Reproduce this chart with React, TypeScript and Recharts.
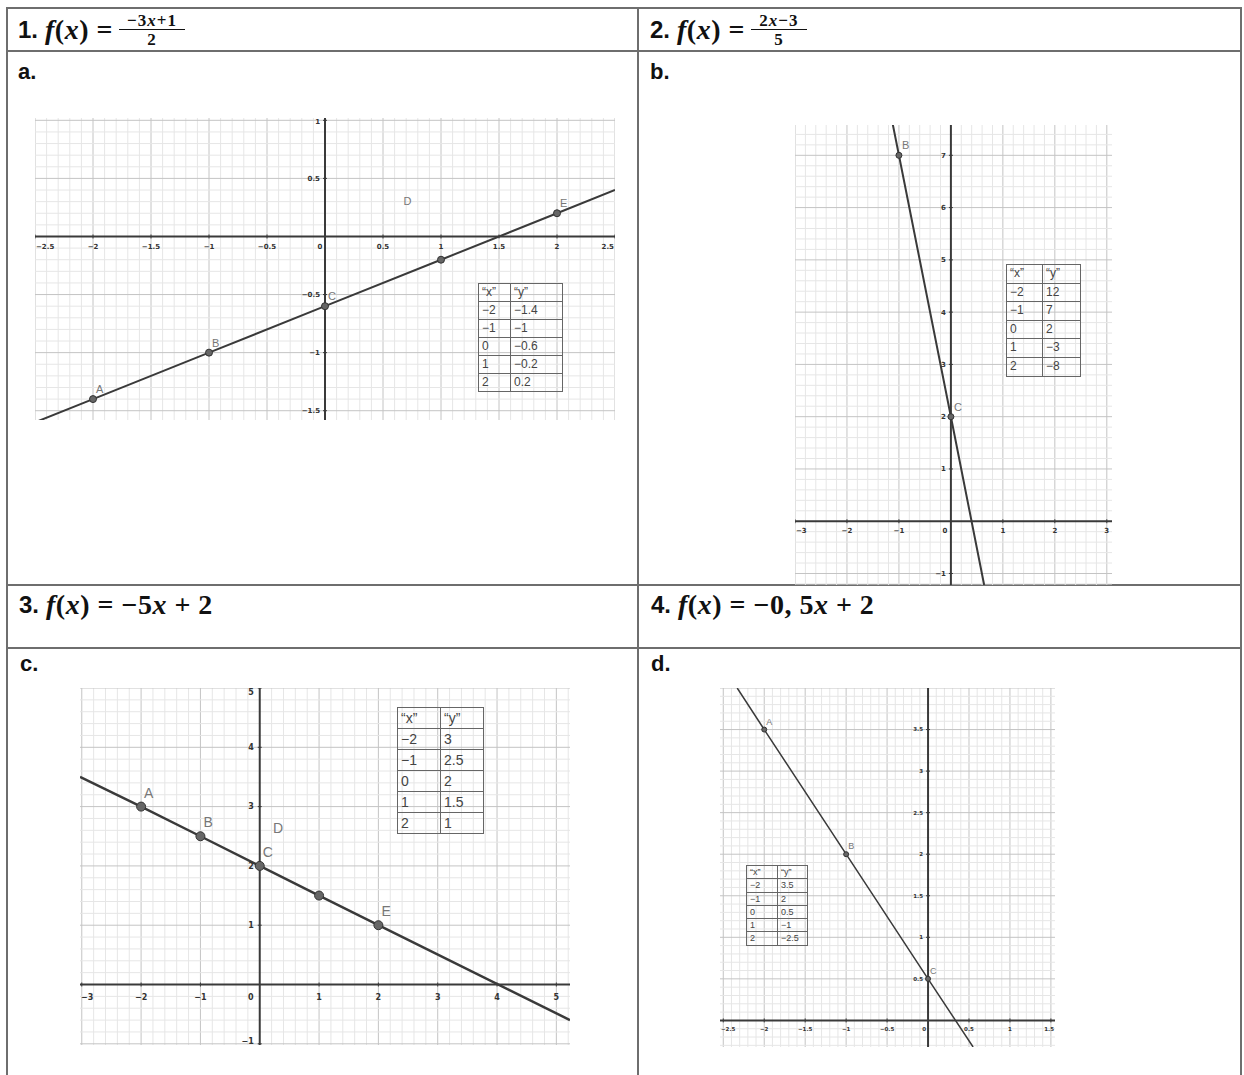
import React from 'react';
import { ComposedChart, Line, Scatter, XAxis, YAxis, ReferenceLine } from 'recharts';

// a. worksheet graph under f(x) = (-3x+1)/2
const aPointX = [-2, -1, 0, 1, 2];
const aPointY = [-1.4, -1, -0.6, -0.2, 0.2];
const aPointNames = ['A', 'B', 'C', '', 'E'];
const aLineX = [-2.5, 2.5];
const aLineY = [-1.6, 0.4];
const aXTicks = [-2.5, -2, -1.5, -1, -0.5, 0, 0.5, 1, 1.5, 2, 2.5];
const aYTicks = [-1.5, -1, -0.5, 0.5, 1];
const aTableX = ['−2', '−1', '0', '1', '2'];
const aTableY = ['−1.4', '−1', '−0.6', '−0.2', '0.2'];
const aNotes = [{ x: 0.71, y: 0.3, text: 'D' }];

// b. graph under f(x) = (2x-3)/5
const bPointX = [-1, 0];
const bPointY = [7, 2];
const bPointNames = ['B', 'C'];
const bLineX = [-1.12, 0.64];
const bLineY = [7.6, -1.22];
const bXTicks = [-3, -2, -1, 0, 1, 2, 3];
const bYTicks = [-1, 1, 2, 3, 4, 5, 6, 7];
const bTableX = ['−2', '−1', '0', '1', '2'];
const bTableY = ['12', '7', '2', '−3', '−8'];

// c. graph under f(x) = -5x + 2
const cPointX = [-2, -1, 0, 1, 2];
const cPointY = [3, 2.5, 2, 1.5, 1];
const cPointNames = ['A', 'B', 'C', '', 'E'];
const cLineX = [-3.03, 5.23];
const cLineY = [3.5, -0.6];
const cXTicks = [-3, -2, -1, 0, 1, 2, 3, 4, 5];
const cYTicks = [-1, 1, 2, 3, 4, 5];
const cTableX = ['−2', '−1', '0', '1', '2'];
const cTableY = ['3', '2.5', '2', '1.5', '1'];
const cNotes = [{ x: 0.31, y: 2.63, text: 'D' }];

// d. graph under f(x) = -0,5x + 2
const dPointX = [-2, -1, 0];
const dPointY = [3.5, 2, 0.5];
const dPointNames = ['A', 'B', 'C'];
const dLineX = [-2.33, 0.55];
const dLineY = [4.0, -0.32];
const dXTicks = [-2.5, -2, -1.5, -1, -0.5, 0, 0.5, 1, 1.5];
const dYTicks = [0.5, 1, 1.5, 2, 2.5, 3, 3.5];
const dTableX = ['−2', '−1', '0', '1', '2'];
const dTableY = ['3.5', '2', '0.5', '−1', '−2.5'];

const RULE = '#6e6e6e';
const AXIS = '#3a3a3a';
const MINOR = '#e6e6e6';
const MAJOR = '#c4c4c4';
const SANS = '"Liberation Sans", Arial, sans-serif';
const MATH = '"Liberation Serif", "DejaVu Serif", serif';

const fmt = (v: number) => String(v).replace('-', '−');

function steps(lo: number, hi: number, step: number) {
  const out: number[] = [];
  for (let i = Math.ceil(lo / step - 1e-9); i <= Math.floor(hi / step + 1e-9); i++) {
    out.push(+(i * step).toFixed(6));
  }
  return out;
}

type PlotProps = {
  left: number;
  top: number;
  width: number;
  height: number;
  xDomain: [number, number];
  yDomain: [number, number];
  minor: number;
  major: number;
  xTicks: number[];
  yTicks: number[];
  px: number[];
  py: number[];
  names: string[];
  lx: number[];
  ly: number[];
  tickFont: number;
  nameFont: number;
  pointR: number;
  xLabelDy: number;
  yLabelDx: number;
  zeroDx: number;
  nameDx: number;
  nameDy: number;
  lineWidth: number;
  notes?: { x: number; y: number; text: string }[];
};

function Plot(p: PlotProps) {
  const isMajor = (v: number) => Math.abs(v / p.major - Math.round(v / p.major)) < 1e-6;
  const gx = steps(p.xDomain[0], p.xDomain[1], p.minor).filter((v) => v !== 0);
  const gy = steps(p.yDomain[0], p.yDomain[1], p.minor).filter((v) => v !== 0);

  const lineData = [
    ...p.lx.map((x, i) => ({ x, y: p.ly[i] })),
    ...p.px.map((x, i) => ({ x, y: p.py[i] })),
  ].sort((a, b) => a.x - b.x);
  const pointData = p.px.map((x, i) => ({ x, y: p.py[i], name: p.names[i] }));
  const xTickData = p.xTicks.map((x) => ({ x, y: 0, label: fmt(x) }));
  const yTickData = p.yTicks.map((y) => ({ x: 0, y, label: fmt(y) }));
  const noteData = (p.notes ?? []).map((n) => ({ x: n.x, y: n.y, label: n.text }));

  const xTick = (props: any) => {
    const { cx, cy, payload } = props;
    const half = payload.label.length * p.tickFont * 0.32;
    let anchor: 'middle' | 'start' | 'end' = 'middle';
    let tx = cx + (payload.x === 0 ? p.zeroDx : 0);
    if (cx - half < 1) {
      anchor = 'start';
      tx = 1;
    } else if (cx + half > p.width - 1) {
      anchor = 'end';
      tx = p.width - 1;
    }
    return (
      <g>
        {payload.x !== 0 && <line x1={cx} x2={cx} y1={cy - 2} y2={cy + 2} stroke={AXIS} />}
        <text x={tx} y={cy + p.xLabelDy} textAnchor={anchor} fontSize={p.tickFont}
          fontWeight={700} fontFamily="DejaVu Sans, sans-serif" fill="#333">
          {payload.label}
        </text>
      </g>
    );
  };
  const yTick = (props: any) => {
    const { cx, cy, payload } = props;
    const ty = Math.max(cy + p.tickFont * 0.35, p.tickFont * 0.9);
    return (
      <g>
        <line x1={cx - 2} x2={cx + 2} y1={cy} y2={cy} stroke={AXIS} />
        <text x={cx + p.yLabelDx} y={Math.min(ty, p.height - 1)} textAnchor="end" fontSize={p.tickFont}
          fontWeight={700} fontFamily="DejaVu Sans, sans-serif" fill="#333">
          {payload.label}
        </text>
      </g>
    );
  };
  const pointShape = (props: any) => {
    const { cx, cy, payload } = props;
    return (
      <g>
        <circle cx={cx} cy={cy} r={p.pointR} fill="#666" stroke="#333" strokeWidth={1} />
        {payload.name && (
          <text x={cx + p.nameDx} y={cy + p.nameDy} fontSize={p.nameFont}
            fontFamily="Liberation Sans, sans-serif" fill="#777">
            {payload.name}
          </text>
        )}
      </g>
    );
  };
  const noteShape = (props: any) => (
    <text x={props.cx} y={props.cy + p.nameFont * 0.35} textAnchor="middle" fontSize={p.nameFont}
      fontFamily="Liberation Sans, sans-serif" fill="#777">
      {props.payload.label}
    </text>
  );

  return (
    <div style={{ position: 'absolute', left: p.left, top: p.top }}>
      <ComposedChart width={p.width} height={p.height} margin={{ top: 0, right: 0, bottom: 0, left: 0 }}>
        <XAxis type="number" dataKey="x" domain={p.xDomain} allowDataOverflow hide />
        <YAxis type="number" dataKey="y" domain={p.yDomain} allowDataOverflow hide />
        {gx.map((v) => (
          <ReferenceLine key={'gx' + v} x={v} stroke={isMajor(v) ? MAJOR : MINOR} strokeWidth={1} />
        ))}
        {gy.map((v) => (
          <ReferenceLine key={'gy' + v} y={v} stroke={isMajor(v) ? MAJOR : MINOR} strokeWidth={1} />
        ))}
        <ReferenceLine x={0} stroke={AXIS} strokeWidth={2} />
        <ReferenceLine y={0} stroke={AXIS} strokeWidth={2} />
        <Scatter data={xTickData} shape={xTick} isAnimationActive={false} />
        <Scatter data={yTickData} shape={yTick} isAnimationActive={false} />
        <Line data={lineData} dataKey="y" type="linear" stroke={AXIS} strokeWidth={p.lineWidth}
          dot={false} activeDot={false} isAnimationActive={false} />
        <Scatter data={pointData} shape={pointShape} isAnimationActive={false} />
        <Scatter data={noteData} shape={noteShape} isAnimationActive={false} />
      </ComposedChart>
    </div>
  );
}

function ValueTable({ left, top, cols, rowH, font, xs, ys }: {
  left: number; top: number; cols: [number, number]; rowH: number; font: number; xs: string[]; ys: string[];
}) {
  const cell: React.CSSProperties = {
    border: '1px solid #666', height: rowH - 1, padding: '0 0 0 3px', lineHeight: `${rowH - 1}px`,
    whiteSpace: 'nowrap', overflow: 'hidden',
  };
  return (
    <table style={{
      position: 'absolute', left, top, borderCollapse: 'collapse', tableLayout: 'fixed',
      width: cols[0] + cols[1], fontFamily: '"Liberation Sans", sans-serif', fontSize: font, color: '#444',
    }}>
      <colgroup><col style={{ width: cols[0] }} /><col style={{ width: cols[1] }} /></colgroup>
      <tbody>
        <tr><td style={cell}>“x”</td><td style={cell}>“y”</td></tr>
        {xs.map((x, i) => (
          <tr key={i}><td style={cell}>{x}</td><td style={cell}>{ys[i]}</td></tr>
        ))}
      </tbody>
    </table>
  );
}

const Rule = ({ x, y, w, h }: { x: number; y: number; w: number; h: number }) => (
  <div style={{ position: 'absolute', left: x, top: y, width: w, height: h, background: RULE }} />
);

const I = ({ children }: { children: React.ReactNode }) => <i>{children}</i>;

function Frac({ num, den, width }: { num: React.ReactNode; den: React.ReactNode; width: number }) {
  return (
    <span style={{
      display: 'inline-flex', flexDirection: 'column', alignItems: 'center', fontSize: 17,
      lineHeight: '16px', marginLeft: 6, width, letterSpacing: 1,
    }}>
      <span>{num}</span>
      <span style={{ borderTop: '1.5px solid #111', width: '100%', textAlign: 'center', paddingTop: 2 }}>{den}</span>
    </span>
  );
}

const headStyle: React.CSSProperties = {
  position: 'absolute', display: 'flex', alignItems: 'center', color: '#111', whiteSpace: 'nowrap',
};
const numStyle: React.CSSProperties = { fontFamily: SANS, fontWeight: 700, fontSize: 24, marginRight: 7 };
const mathStyle: React.CSSProperties = { fontFamily: MATH, fontWeight: 700, fontSize: 28, letterSpacing: 0.5, whiteSpace: 'pre' };
const letterStyle: React.CSSProperties = { position: 'absolute', fontFamily: SANS, fontWeight: 700, fontSize: 22, color: '#111' };

export default function App() {
  return (
    <div style={{ position: 'absolute', left: 0, top: 0, width: 1244, height: 1075, overflow: 'hidden', background: '#fff' }}>
      <Rule x={6} y={7} w={1236} h={2} />
      <Rule x={6} y={50} w={1236} h={2} />
      <Rule x={6} y={584} w={1236} h={2} />
      <Rule x={6} y={647} w={1236} h={2} />
      <Rule x={6} y={7} w={2} h={1068} />
      <Rule x={637} y={7} w={2} h={1068} />
      <Rule x={1240} y={7} w={2} h={1068} />

      <div style={{ ...headStyle, left: 18, top: 9, height: 41 }}>
        <span style={numStyle}>1.</span>
        <span style={mathStyle}><I>f</I>(<I>x</I>) =</span>
        <span style={{ fontFamily: MATH, fontWeight: 700 }}>
          <Frac num={<>−3<I>x</I>+1</>} den="2" width={66} />
        </span>
      </div>
      <div style={{ ...headStyle, left: 650, top: 9, height: 41 }}>
        <span style={numStyle}>2.</span>
        <span style={mathStyle}><I>f</I>(<I>x</I>) =</span>
        <span style={{ fontFamily: MATH, fontWeight: 700 }}>
          <Frac num={<>2<I>x</I>−3</>} den="5" width={56} />
        </span>
      </div>
      <div style={{ ...headStyle, left: 19, top: 586, height: 38 }}>
        <span style={numStyle}>3.</span>
        <span style={mathStyle}><I>f</I>(<I>x</I>) = −5<I>x</I> + 2</span>
      </div>
      <div style={{ ...headStyle, left: 651, top: 586, height: 38 }}>
        <span style={numStyle}>4.</span>
        <span style={mathStyle}><I>f</I>(<I>x</I>) = −0, 5<I>x</I> + 2</span>
      </div>
      <div style={{ ...letterStyle, left: 18, top: 59 }}>a.</div>
      <div style={{ ...letterStyle, left: 650, top: 59 }}>b.</div>
      <div style={{ ...letterStyle, left: 20, top: 651 }}>c.</div>
      <div style={{ ...letterStyle, left: 651, top: 651 }}>d.</div>

      <Plot left={35} top={118} width={580} height={302} xDomain={[-2.5, 2.5]} yDomain={[-1.58, 1.02]}
        minor={0.1} major={0.5} xTicks={aXTicks} yTicks={aYTicks} px={aPointX} py={aPointY}
        names={aPointNames} lx={aLineX} ly={aLineY} tickFont={7} nameFont={11} pointR={3.5}
        xLabelDy={13} yLabelDx={-5} zeroDx={-5} nameDx={3} nameDy={-6} lineWidth={2} notes={aNotes} />
      <ValueTable left={478} top={283} cols={[32, 52]} rowH={18} font={12} xs={aTableX} ys={aTableY} />

      <Plot left={795} top={125} width={317} height={460} xDomain={[-3, 3.1]} yDomain={[-1.22, 7.58]}
        minor={0.2} major={1} xTicks={bXTicks} yTicks={bYTicks} px={bPointX} py={bPointY}
        names={bPointNames} lx={bLineX} ly={bLineY} tickFont={7} nameFont={11} pointR={3}
        xLabelDy={12} yLabelDx={-5} zeroDx={-6} nameDx={3} nameDy={-6} lineWidth={2} />
      <ValueTable left={1006} top={264} cols={[36, 38]} rowH={18.6} font={12} xs={bTableX} ys={bTableY} />

      <Plot left={80} top={688} width={490} height={357} xDomain={[-3.03, 5.23]} yDomain={[-1.02, 5.0]}
        minor={0.2} major={1} xTicks={cXTicks} yTicks={cYTicks} px={cPointX} py={cPointY}
        names={cPointNames} lx={cLineX} ly={cLineY} tickFont={8} nameFont={14} pointR={4.5}
        xLabelDy={15} yLabelDx={-6} zeroDx={-9} nameDx={3} nameDy={-9} lineWidth={2.5} notes={cNotes} />
      <ValueTable left={397} top={707} cols={[43, 43]} rowH={21} font={14} xs={cTableX} ys={cTableY} />

      <Plot left={720} top={688} width={335} height={359} xDomain={[-2.54, 1.55]} yDomain={[-0.32, 4.0]}
        minor={0.1} major={0.5} xTicks={dXTicks} yTicks={dYTicks} px={dPointX} py={dPointY}
        names={dPointNames} lx={dLineX} ly={dLineY} tickFont={5.5} nameFont={9} pointR={2.5}
        xLabelDy={11} yLabelDx={-5} zeroDx={-4} nameDx={2} nameDy={-5} lineWidth={1.5} />
      <ValueTable left={746} top={865} cols={[31, 30]} rowH={13.3} font={9} xs={dTableX} ys={dTableY} />
    </div>
  );
}
